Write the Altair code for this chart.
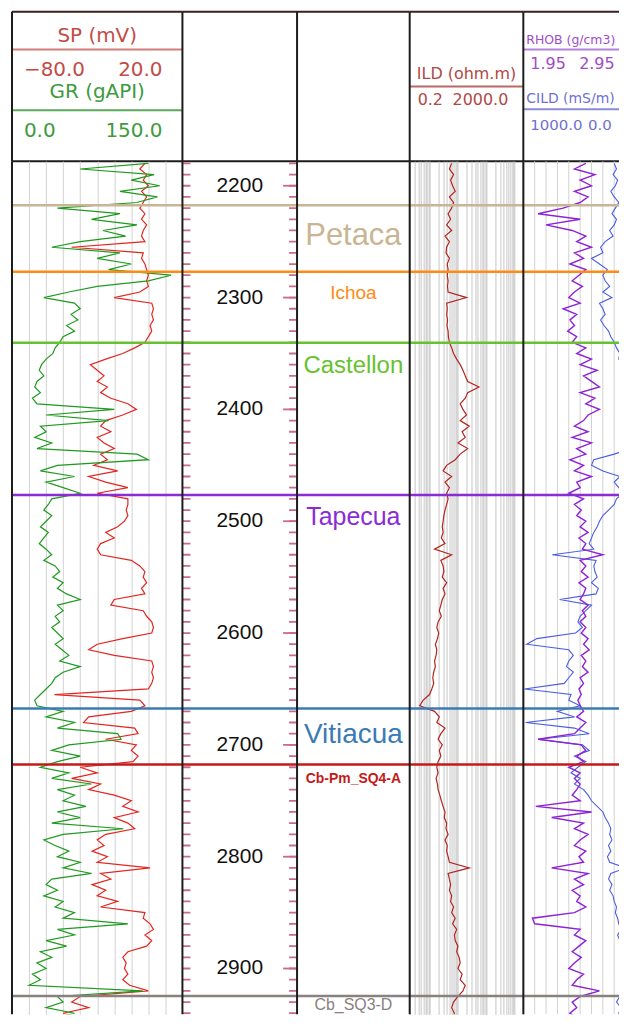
import altair as alt
import pandas as pd

# ---------------- data ----------------
DEPTH = list(range(2180, 2950, 5))

GR = [
    120, 60, 125, 105, 130, 95, 128, 110, 40, 95,
    70, 110, 80, 100, 60, 35, 95, 75, 105, 85,
    140, 120, 75, 50, 28, 55, 60, 52, 58, 48,
    55, 45, 42, 38, 36, 30, 26, 24, 28, 22,
    20, 25, 18, 22, 90, 30, 85, 25, 30, 20,
    35, 22, 110, 120, 40, 25, 55, 30, 45, 60,
    35, 32, 28, 35, 30, 25, 32, 28, 24, 30,
    35, 28, 38, 42, 36, 45, 40, 48, 60, 40,
    45, 38, 42, 35, 40, 45, 38, 44, 50, 42,
    60, 45, 38, 35, 30, 25, 20, 22, 45, 30,
    55, 40, 93, 96, 50, 35, 60, 40, 25, 50,
    35, 70, 40, 55, 45, 65, 40, 60, 35, 98,
    45, 28, 38, 50, 40, 60, 45, 70, 35, 30,
    40, 28, 45, 38, 55, 45, 102, 40, 55, 30,
    48, 25, 35, 22, 30, 18, 25, 15, 115, 40,
    45, 30, 55, 35,
]

SP = [
    -2, -5, -1, -3, 0, -4, -1, -3, -5, -2,
    -4, -1, -3, -4, -2, -45, -3, -4, -2, -1,
    0, -1, 0, -5, -20, 2, 3, 2, 3, 1,
    2, 0, -2, -8, -15, -25, -34, -30, -26, -30,
    -24, -28, -22, -12, -7, -15, -25, -28, -22, -30,
    -26, -20, -28, -24, -32, -18, -35, -25, -12, -30,
    -12, -12, -13, -12, -14, -18, -25, -20, -28, -30,
    -28, -10, -5, -2, -3, -1, -4, -2, -20, -22,
    -3, -1, 2, 3, 2, -15, -30, -35, -20, 2,
    3, 2, 3, 2, 0, -55, -5, -2, -10, -35,
    -38, -8, -6, -25, -7, -10, -6, -9, -40, -30,
    -45, -28, -35, -20, -10, -15, -6, -20, -12, -8,
    -25, -30, -26, -33, -24, -30, 1, -28, -22, -33,
    -25, -30, -18, -28, -2, -3, 1, 3, -2, 2,
    -1, -12, -15, -13, -14, -12, -15, -11, 0, -40,
    -45, -35, -50, -38,
]

ILD = [
    6, 5, 7, 5.5, 6.5, 8, 5, 7, 6, 4.5,
    5.5, 4, 6, 3.5, 5, 4, 3.8, 5, 4.2, 4.5,
    4.2, 4.5, 4.3, 4.5, 20, 4, 4.2, 4, 4.3, 4.1,
    4.5, 4.6, 5, 6, 7, 9, 12, 15, 18, 22,
    55, 22, 18, 12, 15, 20, 12, 25, 14, 18,
    10, 22, 12, 8, 4, 3, 6, 3.5, 5, 4,
    4.5, 4, 3.5, 3.2, 3, 2.8, 3, 2.6, 3.5, 1.5,
    6, 2.5, 3, 3.2, 2.8, 4, 3, 3.5, 2.8, 2.5,
    2.2, 2.6, 2.0, 1.8, 2.1, 1.9, 1.6, 1.8, 1.7, 1.5,
    1.6, 1.4, 1.3, 1.4, 1.2, 1.0, 0.6, 0.45, 1.5, 2.2,
    1.8, 3.5, 2.5, 2.0, 2.8, 2.2, 2.5, 2.0, 1.8, 2.0,
    1.7, 1.9, 2.0, 2.3, 2.6, 3.0, 3.5, 3.3, 4.0, 3.8,
    4.5, 3.5, 4.2, 4.0, 4.5, 5, 25, 4.5, 5, 5.5,
    5, 6, 5.5, 7, 6, 8, 6.5, 9, 7.5, 8,
    10, 9, 11, 12, 10, 14, 12, 18, 15, 10,
    7, 6, 7.5, 6.5,
]

RHOB = [
    2.50, 2.40, 2.58, 2.45, 2.55, 2.40, 2.52, 2.45, 2.30, 2.08,
    2.45, 2.15, 2.38, 2.50, 2.42, 2.55, 2.40, 2.48, 2.36, 2.50,
    2.44, 2.38, 2.47, 2.40, 2.35, 2.45, 2.30, 2.42, 2.36, 2.40,
    2.34, 2.42, 2.38, 2.50, 2.42, 2.55, 2.45, 2.60, 2.48, 2.55,
    2.62, 2.45, 2.58, 2.50, 2.62, 2.52, 2.48, 2.40, 2.52, 2.38,
    2.55, 2.42, 2.50, 2.36, 2.48, 2.40, 2.55, 2.42, 2.45, 2.35,
    2.48, 2.40, 2.46, 2.42, 2.50, 2.45, 2.52, 2.44, 2.50, 2.47,
    2.65, 2.45, 2.50, 2.46, 2.52, 2.44, 2.50, 2.48, 2.45, 2.52,
    2.47, 2.50, 2.45, 2.50, 2.46, 2.52, 2.48, 2.53, 2.46, 2.50,
    2.47, 2.52, 2.45, 2.48, 2.44, 2.46, 2.43, 2.45, 2.48, 2.42,
    2.50, 2.45, 2.40, 2.08, 2.46, 2.50, 2.42, 2.48, 2.35, 2.45,
    2.40, 2.45, 2.42, 2.38, 2.45, 2.06, 2.55, 2.20, 2.48, 2.40,
    2.52, 2.45, 2.40, 2.50, 2.44, 2.48, 2.20, 2.52, 2.40, 2.48,
    2.38, 2.45, 2.42, 2.50, 2.40, 2.03, 2.05, 2.45, 2.40, 2.50,
    2.44, 2.38, 2.46, 2.40, 2.35, 2.48, 2.42, 2.38, 2.62, 2.45,
    2.38, 2.42, 2.36, 2.44,
]

CILD = [
    200, 180, 210, 170, 190, 230, 200, 160, 190, 220,
    180, 200, 240, 210, 280, 320, 300, 400, 330, 260,
    300, 280, 240, 300, 220, 330, 300, 280, 320, 290,
    250, 230, 200, 180, 150, 160, 120, 140, 100, 110,
    80, 90, 60, 70, 50, 60, 80, 50, 70, 90,
    120, 60, 200, 380, 400, 300, 150, 200, 160, 120,
    180, 200, 250, 300, 330, 350, 380, 400, 420, 380,
    745, 360, 380, 370, 350, 400, 340, 360, 680, 400,
    450, 500, 520, 480, 540, 880, 970, 600, 560, 600,
    620, 560, 600, 640, 990, 580, 600, 500, 700, 550,
    980, 550, 420, 870, 480, 420, 550, 450, 520, 580,
    500, 550, 470, 430, 400, 350, 300, 280, 250, 230,
    240, 220, 250, 230, 260, 240, 100, 230, 250, 220,
    240, 210, 200, 180, 190, 170, 160, 140, 170, 150,
    120, 100, 90, 110, 80, 70, 90, 60, 80, 150,
    180, 140, 160, 130,
]

assert all(len(s) == len(DEPTH) for s in (GR, SP, ILD, RHOB, CILD))

FORMATIONS = ["Petaca", "Ichoa", "Castellon", "Tapecua", "Vitiacua", "Cb-Pm_SQ4-A", "Cb_SQ3-D"]
FORM_TOPS = [2217.5, 2277, 2340.5, 2476.5, 2667.5, 2717.5, 2924.5]

DEPTH_LABELS = list(range(2200, 3000, 100))
DEPTH_TICKS = list(range(2180, 2950, 10))

GR_RANGE = [0, 150]
SP_RANGE = [-80, 20]
ILD_RANGE = [0.2, 2000]
RHOB_RANGE = [1.95, 2.95]
CILD_RANGE = [1000, 0]
DEPTH_RANGE = [2178, 2941]

# ---------------- styles ----------------
FORM_COLORS = ["#c9b593", "#ff8a14", "#66c22e", "#8b2bd3", "#3b7bb4", "#c31a1a", "#8a8080"]
LABEL_STYLE = {  # fontSize, dy, weight
    "Petaca": (31, 31, "normal"),
    "Ichoa": (19, 21, "normal"),
    "Castellon": (24, 23, "normal"),
    "Tapecua": (25, 22, "normal"),
    "Vitiacua": (28, 27, "normal"),
    "Cb-Pm_SQ4-A": (14, 15, "bold"),
    "Cb_SQ3-D": (16, 9, "normal"),
}
GR_COLOR = "#1f9a1f"
SP_COLOR = "#e4251f"
ILD_COLOR = "#b3241e"
RHOB_COLOR = "#8e22d6"
CILD_COLOR = "#4a5de2"
TICK_COLOR = "#c86a8a"
BORDER = "#1c1c1c"
HFONT = "DejaVu Sans"
LFONT = "Liberation Sans"

W = [171, 115, 113, 114, 96]    # last track is cut by the page edge
T5_FULL = 114                   # full width the last track's scales are drawn on
HEAD_H = 150
BODY_H = 856

logs = pd.DataFrame({"depth": DEPTH, "GR": GR, "SP": SP, "ILD": ILD, "RHOB": RHOB, "CILD": CILD})
forms = pd.DataFrame({"name": FORMATIONS, "top": FORM_TOPS})
ticks = pd.DataFrame({"depth": DEPTH_TICKS})
majors = pd.DataFrame({"depth": DEPTH_LABELS})
one = pd.DataFrame({"k": [0]})

GR_GRID = [GR_RANGE[0] + (GR_RANGE[1] - GR_RANGE[0]) * i / 10 for i in range(1, 10)]
RHOB_GRID = [round(RHOB_RANGE[0] + (RHOB_RANGE[1] - RHOB_RANGE[0]) * i / 10, 3) for i in range(1, 10)]
ILD_GRID = [m * 10.0 ** e for e in range(-1, 4) for m in range(1, 10)
            if ILD_RANGE[0] <= m * 10.0 ** e <= ILD_RANGE[1]]


def yscale():
    return alt.Scale(domain=DEPTH_RANGE, reverse=True, nice=False, zero=False)


def y_grid():
    return alt.Axis(values=DEPTH_LABELS, grid=True, gridColor="#bdbdbd", gridWidth=1.3,
                    labels=False, ticks=False, domain=False, title=None)


def x_grid(values, color="#d2d2d2"):
    return alt.Axis(values=values, grid=True, gridColor=color, gridWidth=1,
                    labels=False, ticks=False, domain=False, title=None)


FORM_SCALE = alt.Scale(domain=FORMATIONS, range=FORM_COLORS)


def form_rules():
    return alt.Chart(forms).mark_rule(strokeWidth=2.5).encode(
        y=alt.Y("top:Q", scale=yscale(), axis=None),
        color=alt.Color("name:N", scale=FORM_SCALE, legend=None),
    )


def curve(field, color, scale, axis=None, width=1.2, yaxis=None):
    return alt.Chart(logs).mark_line(color=color, strokeWidth=width, clip=True).encode(
        x=alt.X(f"{field}:Q", scale=scale, axis=axis),
        y=alt.Y("depth:Q", scale=yscale(), axis=yaxis),
        order="depth:Q",
    )


def vborder(h):
    return alt.Chart(one).mark_rule(color=BORDER, strokeWidth=2).encode(
        x=alt.value(0), y=alt.value(0), y2=alt.value(h))


def hborder(y, w, color=BORDER):
    return alt.Chart(one).mark_rule(color=color, strokeWidth=2).encode(
        x=alt.value(0), x2=alt.value(w), y=alt.value(y))


# ---------------- body tracks ----------------
t1 = alt.layer(
    curve("SP", SP_COLOR, alt.Scale(domain=SP_RANGE, nice=False, zero=False), yaxis=y_grid()),
    curve("GR", GR_COLOR, alt.Scale(domain=GR_RANGE, nice=False, zero=False), axis=x_grid(GR_GRID), yaxis=y_grid()),
    form_rules(),
    vborder(BODY_H),
).resolve_scale(x="independent").properties(width=W[0], height=BODY_H)

t2 = alt.layer(
    alt.Chart(ticks).mark_rule(color=TICK_COLOR, strokeWidth=1.8, clip=True).encode(
        y=alt.Y("depth:Q", scale=yscale(), axis=None), x=alt.value(0), x2=alt.value(8)),
    alt.Chart(ticks).mark_rule(color=TICK_COLOR, strokeWidth=1.8, clip=True).encode(
        y=alt.Y("depth:Q", scale=yscale(), axis=None), x=alt.value(W[1] - 8), x2=alt.value(W[1])),
    alt.Chart(majors).mark_rule(color=TICK_COLOR, strokeWidth=1.8).encode(
        y=alt.Y("depth:Q", scale=yscale(), axis=None), x=alt.value(W[1] - 14), x2=alt.value(W[1])),
    alt.Chart(majors).mark_text(font=LFONT, fontSize=21, color="#111111", baseline="middle").encode(
        y=alt.Y("depth:Q", scale=yscale(), axis=None), x=alt.value(W[1] / 2),
        text=alt.Text("depth:Q", format="d")),
    form_rules(),
    vborder(BODY_H),
).properties(width=W[1], height=BODY_H)

label_layers = []
for name, (size, dy, weight) in LABEL_STYLE.items():
    label_layers.append(
        alt.Chart(forms).transform_filter(alt.datum.name == name).mark_text(
            font=LFONT, fontSize=size, fontWeight=weight, dy=dy, baseline="middle", align="center"
        ).encode(
            y=alt.Y("top:Q", scale=yscale(), axis=None),
            x=alt.value(W[2] / 2),
            text="name:N",
            color=alt.Color("name:N", scale=FORM_SCALE, legend=None),
        )
    )
t3 = alt.layer(form_rules(), *label_layers, vborder(BODY_H)).properties(width=W[2], height=BODY_H)

t4 = alt.layer(
    curve("ILD", ILD_COLOR, alt.Scale(type="log", domain=ILD_RANGE, nice=False),
          axis=x_grid(ILD_GRID, "#c6c6c6"), yaxis=y_grid()),
    form_rules(),
    vborder(BODY_H),
).properties(width=W[3], height=BODY_H)

t5_grid = alt.Chart(pd.DataFrame({"g": RHOB_GRID})).mark_rule(color="#d2d2d2", strokeWidth=1, clip=True).encode(
    x=alt.X("g:Q", scale=alt.Scale(domain=RHOB_RANGE, range=[0, T5_FULL], nice=False, zero=False), axis=None))

t5 = alt.layer(
    t5_grid,
    curve("CILD", CILD_COLOR, alt.Scale(domain=CILD_RANGE, range=[0, T5_FULL], nice=False, zero=False),
          width=1.1, yaxis=y_grid()),
    curve("RHOB", RHOB_COLOR, alt.Scale(domain=RHOB_RANGE, range=[0, T5_FULL], nice=False, zero=False),
          width=1.4, yaxis=y_grid()),
    form_rules(),
    vborder(BODY_H),
).resolve_scale(x="independent").properties(width=W[4], height=BODY_H)


# ---------------- header tracks ----------------
def htext(txt, x, y, color, size, align="center"):
    return alt.Chart(one).mark_text(align=align, baseline="middle", font=HFONT, fontSize=size, color=color).encode(
        x=alt.value(x), y=alt.value(y), text=alt.value(txt))


def hrule(y, width, color):
    return alt.Chart(one).mark_rule(color=color, strokeWidth=2).encode(
        x=alt.value(0), x2=alt.value(width), y=alt.value(y))


def fmt(v, d=1):
    return f"{v:.{d}f}".replace("-", "\u2212")


def head(width, *items):
    return alt.layer(
        *items,
        hborder(0, width, "#3a2020"),
        hborder(HEAD_H, width),
        vborder(HEAD_H),
    ).properties(width=width, height=HEAD_H)


SPC, GRC, ILDC, RHC, CIC = "#c24b48", "#3e9a3e", "#b04844", "#a04cc8", "#6f6fd2"
h1 = head(
    W[0],
    htext("SP (mV)", W[0] / 2, 24, SPC, 20),
    hrule(38, W[0], "#d27d7a"),
    htext(fmt(SP_RANGE[0]), 12, 58.5, SPC, 20, "left"),
    htext(fmt(SP_RANGE[1]), 151, 58.5, SPC, 20, "right"),
    htext("GR (gAPI)", W[0] / 2, 81, GRC, 20),
    hrule(99, W[0], "#5aa85a"),
    htext(fmt(GR_RANGE[0]), 12, 119.5, GRC, 20, "left"),
    htext(fmt(GR_RANGE[1]), 151, 119.5, GRC, 20, "right"),
)
h2 = head(W[1])
h3 = head(W[2])
h4 = head(
    W[3],
    htext("ILD (ohm.m)", W[3] / 2, 63, ILDC, 16),
    hrule(75, W[3], "#b86a66"),
    htext(f"{ILD_RANGE[0]:g}", 8, 88.5, ILDC, 16, "left"),
    htext(fmt(ILD_RANGE[1]), 43, 88.5, ILDC, 16, "left"),
)
h5 = head(
    W[4],
    htext("RHOB (g/cm3)", 3, 28, RHC, 12.5, "left"),
    hrule(38, W[4], "#b482dc"),
    htext(fmt(RHOB_RANGE[0], 2), 7, 53, RHC, 16, "left"),
    htext(fmt(RHOB_RANGE[1], 2), 56, 53, RHC, 16, "left"),
    htext("CILD (mS/m)", 3, 88, CIC, 14, "left"),
    hrule(98, W[4], "#8a8ad8"),
    htext(fmt(CILD_RANGE[0]), 7, 114, CIC, 15, "left"),
    htext(fmt(CILD_RANGE[1]), 65, 114, CIC, 15, "left"),
)

chart = alt.concat(
    h1, h2, h3, h4, h5, t1, t2, t3, t4, t5,
    columns=5, spacing=0, bounds="flush",
).properties(
    padding={"left": 2, "top": 1, "right": 0, "bottom": 0},
    background="white",
).configure_view(stroke="transparent", strokeWidth=0)

chart.save("out.html", embed_options={"renderer": "svg", "actions": False})
